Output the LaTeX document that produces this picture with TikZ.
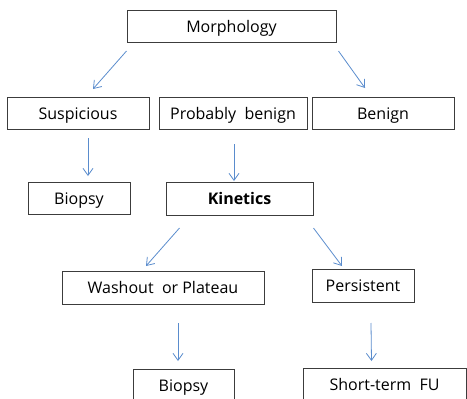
\documentclass[tikz,border=0pt]{standalone}
\usepackage{fontspec}
\setmainfont{Open Sans}
\usepackage{xcolor}
\usepackage{tikz}
\usetikzlibrary{arrows.meta,positioning,calc}

\definecolor{boxline}{RGB}{60,60,60}
\definecolor{arrowblue}{RGB}{90,140,205}

\begin{document}
\begin{tikzpicture}[
    x=1pt, y=-1pt,
    box/.style={rectangle, draw=boxline, line width=1pt, inner sep=0pt, align=center, minimum height=32pt, text height=11.5pt, text depth=0pt, font=\fontsize{16}{19}\selectfont},
    flow/.style={draw=arrowblue, line width=0.8pt, -{Straight Barb[length=7pt,width=10pt]}}
]
\clip (0,0) rectangle (467,399);

\node[box, minimum width=209pt] (morph) at (231.5,26.5) {Morphology};
\node[box, minimum width=142pt] (susp) at (78,113.5) {Suspicious};
\node[box, minimum width=148pt] (prob) at (233,113.5) {Probably\ \ benign};
\node[box, minimum width=142pt] (benign) at (383,113.5) {Benign};
\node[box, minimum width=102pt] (biopsyA) at (79,198.5) {Biopsy};
\node[box, minimum width=147pt, minimum height=33pt] (kin) at (239.5,199) {\bfseries Kinetics};
\node[box, minimum width=202pt, minimum height=33pt] (wash) at (163,288) {Washout\ \ or Plateau};
\node[box, minimum width=102pt, minimum height=33pt] (pers) at (363,286) {Persistent};
\node[box, minimum width=101pt] (biopsyB) at (183.5,385.5) {Biopsy};
\node[box, minimum width=163pt] (shortfu) at (384.5,384.5) {Short-term\ \ FU};

\draw[flow] ($(morph.south west)+(0,8)$) -- ($(susp.north)+(15,-8)$);
\draw[flow] ($(morph.south east)+(2,8)$) -- ($(benign.north)+(-18,-9)$);
\draw[flow] ($(susp.south)+(10,8)$) -- ($(biopsyA.north)+(9,-6)$);
\draw[flow] ($(prob.south)+(1,14)$) -- ($(kin.north)+(-5.5,-1)$);
\draw[flow] ($(kin.south west)+(14,12)$) -- ($(wash.north)+(-17,-5)$);
\draw[flow] ($(kin.south east)+(0,12)$) -- ($(pers.north)+(-21,-3)$);
\draw[flow] ($(wash.south)+(15,18)$) -- ($(biopsyB.north)+(-5.5,-8)$);
\draw[flow] ($(pers.south)+(8,20)$) -- ($(shortfu.north)+(-13,-7)$);

\end{tikzpicture}
\end{document}
